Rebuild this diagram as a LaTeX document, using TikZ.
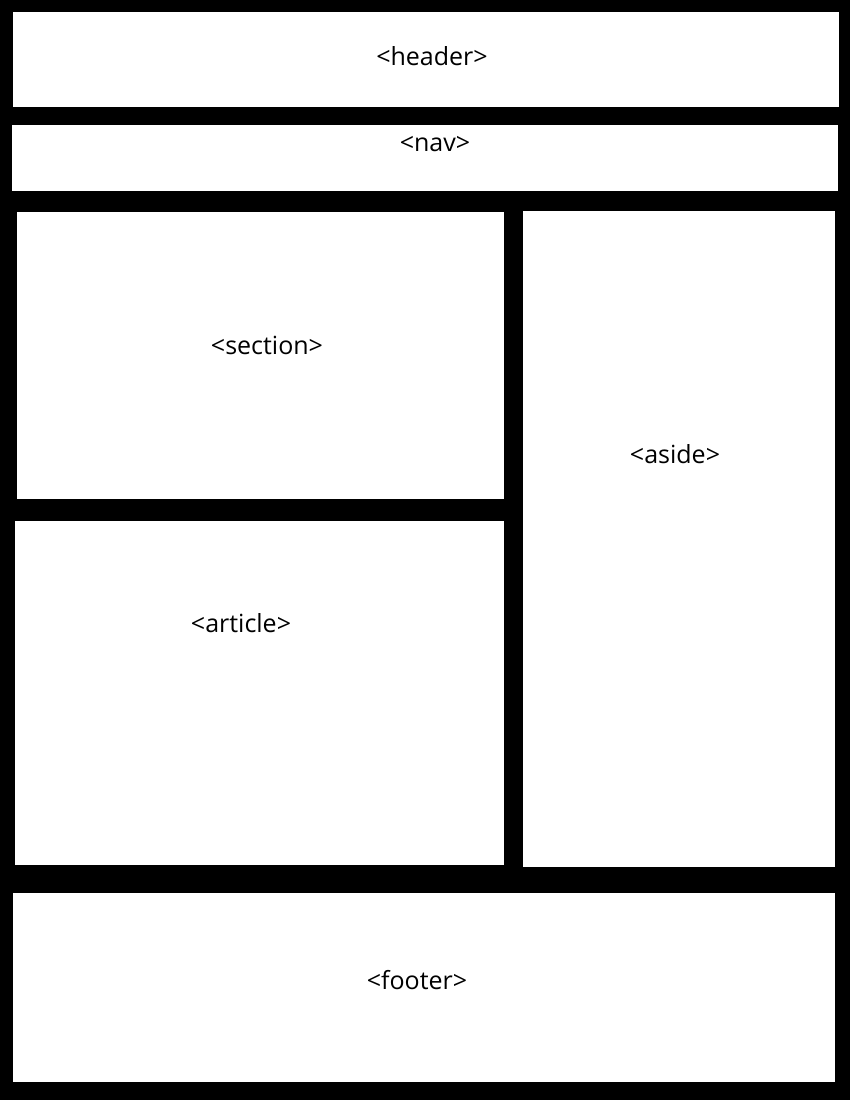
\documentclass[tikz,border=0pt]{standalone}
\usepackage{fontspec}
\setmainfont{Open Sans}

\begin{document}
\begin{tikzpicture}[x=1pt,y=-1pt,
  tag/.style={font=\fontsize{25}{30}\selectfont, inner sep=0pt}]

\fill[black] (0,0) rectangle (850,1100);
\useasboundingbox (0,0) rectangle (850,1100);
\fill[white] (13,12) rectangle (839,107);
\fill[white] (12,125) rectangle (838,191);
\fill[white] (17,212) rectangle (504,499);
\fill[white] (15,521) rectangle (504,865);
\fill[white] (523,211) rectangle (835,867);
\fill[white] (13,893) rectangle (835,1082);
\node[tag] (header) at (432,56) {<header>};
\node[tag] (nav) at (435,144) {<nav>};
\node[tag] (section) at (267,345) {<section>};
\node[tag] (article) at (241,623) {<article>};
\node[tag] (aside) at (675,454) {<aside>};
\node[tag] (footer) at (417,980) {<footer>};

\end{tikzpicture}
\end{document}
